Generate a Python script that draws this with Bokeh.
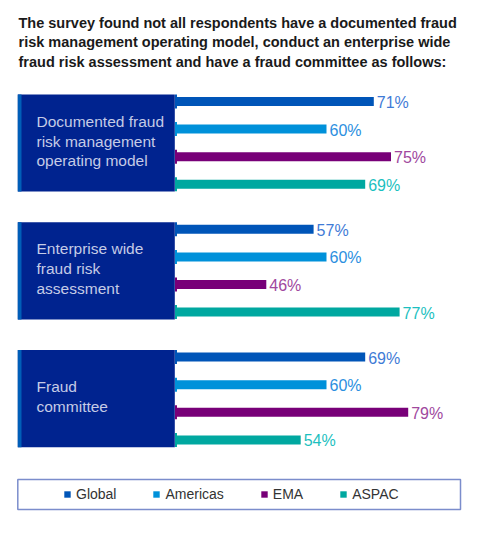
from bokeh.core.properties import value
from bokeh.embed import file_html
from bokeh.models import ColumnDataSource, Legend, LegendItem, Range1d
from bokeh.plotting import figure
from bokeh.resources import INLINE

title_lines = [
    "The survey found not all respondents have a documented fraud",
    "risk management operating model, conduct an enterprise wide",
    "fraud risk assessment and have a fraud committee as follows:",
]
groups = [
    "Documented fraud\nrisk management\noperating model",
    "Enterprise wide\nfraud risk\nassessment",
    "Fraud\ncommittee",
]
regions = ["Global", "Americas", "EMA", "ASPAC"]
global_pct = [71, 57, 69]
americas_pct = [60, 60, 60]
ema_pct = [75, 46, 79]
aspac_pct = [69, 77, 54]
series = [global_pct, americas_pct, ema_pct, aspac_pct]

bar_colors = ["#0055b8", "#0091da", "#780078", "#00a8a0"]
label_colors = ["#3f7bd6", "#2b8fe0", "#a0489e", "#1cbfc0"]
FONT = value("Liberation Sans")

W, H = 477, 517
BASE = 25          # bars in the original start around 25%, not at zero
PX_PER_PCT = 4.3
AXIS_PX = 175.5
TOP_BAR = 101
BAR_STEP = 27.6
GROUP_STEP = 127.8

# the frame sits at the page corner, so data units below are page pixels
x_start = BASE - AXIS_PX / PX_PER_PCT
p = figure(width=W, height=H, output_backend="svg", toolbar_location=None,
           x_range=Range1d(x_start, x_start + W / PX_PER_PCT),
           y_range=Range1d(H, 0), min_border=0)
p.extra_x_ranges = {"px": Range1d(0, W)}
p.axis.visible = False
p.grid.visible = False
p.outline_line_color = None

# title
p.text(x=18, y=[22 + i * 19.7 for i in range(len(title_lines))], text=title_lines,
       x_range_name="px", text_font=FONT, text_font_style="bold", text_font_size="14.5px",
       text_color="#1a1a1a", text_baseline="middle")

# category boxes
tops = [TOP_BAR + g * GROUP_STEP - 7 for g in range(len(groups))]
bottoms = [t + 3 * BAR_STEP + 14.3 for t in tops]
p.quad(left=17.3, right=174.3, top=tops, bottom=bottoms, x_range_name="px",
       fill_color="#00238f", line_color=None)
p.quad(left=17.3, right=21, top=tops, bottom=bottoms, x_range_name="px",
       fill_color="#005eb8", line_color=None)
p.text(x=36, y=[(t + b) / 2 - 2 for t, b in zip(tops, bottoms)], text=groups, x_range_name="px",
       text_font=FONT, text_font_size="15.5px", text_color="#c5cbe6",
       text_baseline="middle", text_line_height=1.17)

items = []
for r, (name, vals) in enumerate(zip(regions, series)):
    ys = [TOP_BAR + g * GROUP_STEP + r * BAR_STEP for g in range(len(groups))]
    src = ColumnDataSource(dict(y=ys, v=vals, txt=[f"{v}%" for v in vals]))
    rend = p.hbar(y="y", left=BASE, right="v", height=9, source=src,
                  fill_color=bar_colors[r], line_color=None)
    p.rect(x=BASE, y="y", width=2, width_units="screen", height=14, source=src,
           fill_color=bar_colors[r], line_color=None)
    p.text(x="v", y="y", text="txt", source=src, x_offset=3, y_offset=1,
           text_baseline="middle", text_font=FONT, text_font_size="16px",
           text_color=label_colors[r])
    items.append(LegendItem(label=name, renderers=[rend]))

# legend frame
p.quad(left=17.3, right=460, top=479, bottom=509, x_range_name="px",
       fill_color=None, line_color="#7b8dcc", line_width=1.5)

legend = Legend(items=items, orientation="horizontal", location=(63, 15),
                glyph_width=8, glyph_height=8, label_standoff=5, spacing=36,
                padding=0, margin=0, border_line_alpha=0, background_fill_alpha=0,
                label_text_font="Liberation Sans", label_text_font_size="14px",
                label_text_color="#333333", label_height=16)
p.add_layout(legend)

open("out.html", "w").write(file_html(p, INLINE))
